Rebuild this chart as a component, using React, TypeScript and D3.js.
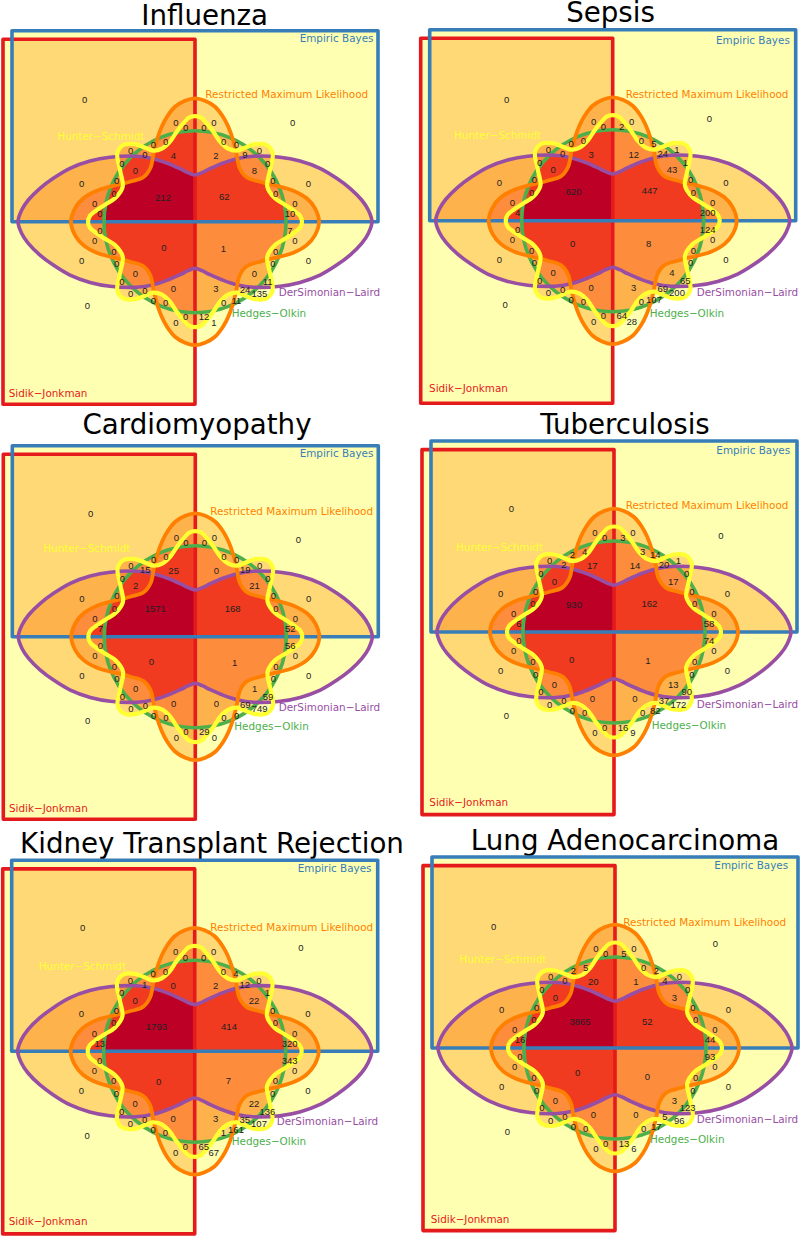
import React from "react";
import * as d3 from "d3";

// ---------- data: one title and 63 region counts per panel ----------
const TITLES = ["Influenza", "Sepsis", "Cardiomyopathy", "Tuberculosis", "Kidney Transplant Rejection", "Lung Adenocarcinoma"];
const LOWER_LEFT_ZEROS = [0, 0, 0, 0, 0, 0, 0, 0, 0, 0, 0, 0, 0, 0, 0, 0];

const INFLUENZA = [
  0, 0, 0, 0, 0, 0, 0, 4, 0, 0, 0, 0, 0, 212, 0, 0,
  0, 0, 0, 0, 0, 2, 9, 0, 0, 8, 0, 0, 0, 62, 0, 10,
  7, 0, 0, 1, 0, 0, 0, 11, 3, 24, 135, 0, 11, 12, 1,
  ...LOWER_LEFT_ZEROS,
];
const SEPSIS = [
  0, 0, 0, 0, 0, 0, 0, 3, 0, 0, 0, 0, 0, 620, 0, 4,
  0, 0, 2, 0, 5, 12, 24, 1, 1, 43, 0, 0, 0, 447, 0, 200,
  124, 0, 0, 8, 0, 0, 4, 65, 3, 69, 200, 0, 107, 64, 28,
  ...LOWER_LEFT_ZEROS,
];
const CARDIOMYOPATHY = [
  0, 0, 0, 0, 0, 0, 15, 25, 0, 2, 0, 0, 0, 1571, 0, 7,
  0, 0, 0, 0, 0, 0, 19, 0, 0, 21, 0, 0, 0, 168, 0, 52,
  56, 0, 0, 1, 0, 0, 1, 59, 0, 69, 749, 0, 0, 29, 0,
  ...LOWER_LEFT_ZEROS,
];
const TUBERCULOSIS = [
  0, 0, 0, 2, 4, 0, 2, 17, 0, 0, 0, 0, 0, 930, 0, 6,
  0, 0, 3, 3, 14, 14, 20, 1, 0, 17, 0, 0, 0, 162, 0, 58,
  74, 0, 0, 1, 0, 0, 13, 90, 0, 37, 172, 0, 82, 16, 9,
  ...LOWER_LEFT_ZEROS,
];
const KIDNEY = [
  0, 0, 0, 0, 0, 0, 1, 0, 0, 0, 0, 0, 0, 1793, 0, 13,
  0, 0, 0, 0, 4, 2, 12, 0, 1, 22, 0, 0, 0, 414, 0, 320,
  343, 0, 0, 7, 0, 0, 22, 136, 3, 35, 107, 1, 161, 65, 67,
  ...LOWER_LEFT_ZEROS,
];
const LUNG = [
  0, 0, 0, 2, 5, 0, 0, 20, 0, 0, 0, 0, 0, 3865, 0, 16,
  0, 0, 5, 0, 2, 1, 4, 0, 0, 3, 0, 0, 0, 52, 0, 44,
  93, 0, 0, 0, 0, 0, 3, 123, 0, 5, 96, 0, 17, 13, 6,
  ...LOWER_LEFT_ZEROS,
];
const PANEL_VALUES = [INFLUENZA, SEPSIS, CARDIOMYOPATHY, TUBERCULOSIS, KIDNEY, LUNG];

const SETS = ["Sidik\u2212Jonkman", "Empiric Bayes", "Hedges\u2212Olkin", "DerSimonian\u2212Laird", "Restricted Maximum Likelihood", "Hunter\u2212Schmidt"];
const SET_COLORS = ["#E41A1C", "#377EB8", "#4DAF4A", "#984EA3", "#FF7F00", "#FFFF33"];
const SET_WIDTHS = [3.6, 3.6, 3.6, 3.6, 3.8, 4.2];
const DEPTH_COLORS = ["#FFFFB2", "#FED976", "#FEB24C", "#FD8D3C", "#F03B20", "#BD0026"];

// ---------- layout ----------
const W = 800, H = 1237;
const CENTERS = [[195, 221.7], [612.7, 220.7], [195.3, 636.7], [614, 632], [194.7, 1051.3], [615, 1048]];
const TITLE_LAYOUT = [[204.7, 25], [610.5, 22], [197, 434], [625, 434], [212, 852.7], [625, 849.7]];

// measured at 3x around the Venn centre
const u = d3.scaleLinear().domain([-600, 600]).range([-200, 200]);

const EB_RECT = { x0: -183, x1: 183, y0: -191, y1: 0 };
const SJ_RECT = { x0: -192, x1: 0, y0: -182.4, y1: 182.6 };
const HO_RADIUS = 91;
const DL_QUADRANT = [[0, -46.7], [7, -49], [15, -53], [28.3, -58.7], [41.7, -63], [58.3, -65.5], [85, -64.5], [105, -60.7], [125, -53.4], [141.7, -43.4], [155, -33.4], [166.7, -21.7], [173.3, -11.7], [177, 0]];
const REML_QUADRANT = [[0, -123.4], [10, -121], [20, -115], [28, -105], [33.3, -95], [38, -82], [41.5, -68], [44.5, -54], [51.7, -44.4], [65, -40], [85, -35], [98.3, -31], [111.7, -23.4], [120, -13.4], [124, 0]];
const HS_QUADRANT = [[0, -105.5], [6, -104], [11, -99], [18.3, -90], [25, -80], [33, -73], [42, -71], [50, -74], [60, -77.5], [71.7, -76.7], [77.7, -68.4], [75, -51.7], [72.3, -35], [80, -23.4], [90, -17], [99, -11], [105, -6], [107, 0]];

const RAW_ANCHORS = [
  [254, 300], [528, 367], [557, 383], [460, 433], [497, 425], [392, 452], [435, 464], [520, 467], [366, 490], [406, 513], [350, 543], [245, 551], [342, 580], [489, 592], [284, 611], [300, 641],
  [878, 367], [642, 367], [612, 383], [671, 425], [709, 433], [648, 467], [735, 464], [778, 452], [803, 490], [763, 513], [819, 543], [925, 551], [827, 580], [673, 590], [885, 611], [870, 641],
  [870, 692], [885, 722], [827, 754], [670, 745], [925, 782], [819, 792], [763, 822], [803, 845], [648, 866], [735, 870], [778, 882], [671, 908], [709, 901], [612, 951], [642, 968],
  [300, 692], [284, 722], [342, 754], [492, 742], [245, 782], [350, 792], [406, 822], [366, 845], [435, 871], [520, 866], [392, 882], [460, 901], [497, 908], [262, 917], [557, 951], [528, 968],
];
const ANCHORS = RAW_ANCHORS.map(([x, y]) => [x - 585, y - 665]);
// anchor index -> per panel offsets (3x units)
const ANCHOR_OVERRIDES: Record<number, number[][]> = {
  0: [[-331, -365], [-318, -362], [-314, -369], [-308, -369], [-336, -370], [-364, -365]],
  16: [[293, -298], [290, -307], [309, -292], [321, -288], [319, -312], [301, -314]],
  13: [[-96, -73], [-117, -87], [-120, -84], [-120, -83], [-115, -75], [-105, -78]],
  29: [[88, -75], [111, -90], [112, -84], [106, -86], [103, -75], [97, -80]],
  35: [[85, 80], [108, 70], [118, 79], [102, 86], [101, 88], [97, 85]],
  50: [[-93, 77], [-120, 70], [-132, 75], [-127, 83], [-108, 90], [-112, 74]],
};
// set index -> per panel label left edge / middle (3x units)
const LEGEND_LAYOUT = [
  [[-559, 515], [-551, 504], [-559, 515], [-554, 512], [-558, 511], [-553, 513]],
  [[314, -550], [310, -540], [313, -550], [307, -544], [309, -549], [298, -547]],
  [[110, 275], [111, 278], [117, 270], [113, 279], [111, 271], [105, 274]],
  [[251, 213], [252, 216], [250, 213], [248, 218], [246, 210], [245, 215]],
  [[31, -383], [39, -380], [45, -377], [35, -380], [47, -373], [25, -378]],
  [[-413, -256], [-476, -256], [-456, -266], [-474, -253], [-468, -256], [-467, -266]],
];

// ---------- shapes ----------
const closedCurve = d3.line().curve(d3.curveCatmullRomClosed.alpha(0.5));

function mirrorQuadrant(q: number[][]) {
  const tr = q;
  const br = q.slice(0, -1).reverse().map(([x, y]) => [x, -y]);
  const bl = q.slice(1).map(([x, y]) => [-x, -y]);
  const tl = q.slice(1, -1).reverse().map(([x, y]) => [-x, y]);
  return [...tr, ...br, ...bl, ...tl] as [number, number][];
}
function rectPath(r: { x0: number; x1: number; y0: number; y1: number }) {
  const p = d3.path();
  p.rect(r.x0, r.y0, r.x1 - r.x0, r.y1 - r.y0);
  return p.toString();
}
function circlePath(r: number) {
  const p = d3.path();
  p.arc(0, 0, r, 0, 2 * Math.PI);
  p.closePath();
  return p.toString();
}
const SHAPE_PATHS = [
  rectPath(SJ_RECT),
  rectPath(EB_RECT),
  circlePath(HO_RADIUS),
  closedCurve(mirrorQuadrant(DL_QUADRANT)) as string,
  closedCurve(mirrorQuadrant(REML_QUADRANT)) as string,
  closedCurve(mirrorQuadrant(HS_QUADRANT)) as string,
];

const SUBSETS = d3
  .range(1, 64)
  .map((mask) => d3.range(6).filter((i) => mask & (1 << i)))
  .sort((a, b) => a.length - b.length);

function Region({ subset, panel }: { subset: number[]; panel: number }) {
  const fill = DEPTH_COLORS[subset.length - 1];
  let node: React.ReactNode = <rect x={-205} y={-205} width={410} height={410} fill={fill} />;
  subset.forEach((s) => {
    node = <g clipPath={`url(#clip-${panel}-${s})`}>{node}</g>;
  });
  return <>{node}</>;
}

function Panel({ index }: { index: number }) {
  const [cx, cy] = CENTERS[index];
  const values = PANEL_VALUES[index];
  return (
    <g transform={`translate(${cx},${cy})`}>
      <defs>
        {SHAPE_PATHS.map((d, s) => (
          <clipPath id={`clip-${index}-${s}`} key={s}>
            <path d={d} />
          </clipPath>
        ))}
      </defs>
      {SUBSETS.map((subset) => (
        <Region key={subset.join("-")} subset={subset} panel={index} />
      ))}
      {SHAPE_PATHS.map((d, s) => (
        <path key={s} d={d} fill="none" stroke={SET_COLORS[s]} strokeWidth={SET_WIDTHS[s]} strokeLinejoin="round" />
      ))}
      <g fontFamily="'Liberation Sans', Arial, sans-serif" fontSize={9.5} fill="#222" textAnchor="middle">
        {values.map((v, i) => {
          const a = ANCHOR_OVERRIDES[i] ? ANCHOR_OVERRIDES[i][index] : ANCHORS[i];
          return (
            <text key={i} x={u(a[0])} y={u(a[1])} dy="0.36em">
              {v}
            </text>
          );
        })}
      </g>
      <g fontFamily="'DejaVu Sans', Verdana, sans-serif" fontSize={10.4}>
        {SETS.map((name, s) => {
          const [lx, ly] = LEGEND_LAYOUT[s][index];
          return (
            <text key={s} x={u(lx)} y={u(ly)} dy="0.36em" fill={SET_COLORS[s]}>
              {name}
            </text>
          );
        })}
      </g>
    </g>
  );
}

export default function App() {
  return (
    <svg width={W} height={H} viewBox={`0 0 ${W} ${H}`} style={{ position: "absolute", left: 0, top: 0, display: "block", background: "#fff" }}>
      {TITLES.map((t, i) => (
        <text key={t} x={TITLE_LAYOUT[i][0]} y={TITLE_LAYOUT[i][1]} textAnchor="middle" fontFamily="'DejaVu Sans', Verdana, sans-serif" fontSize={27.7} fill="#000">
          {t}
        </text>
      ))}
      {TITLES.map((t, i) => (
        <Panel key={t} index={i} />
      ))}
    </svg>
  );
}
